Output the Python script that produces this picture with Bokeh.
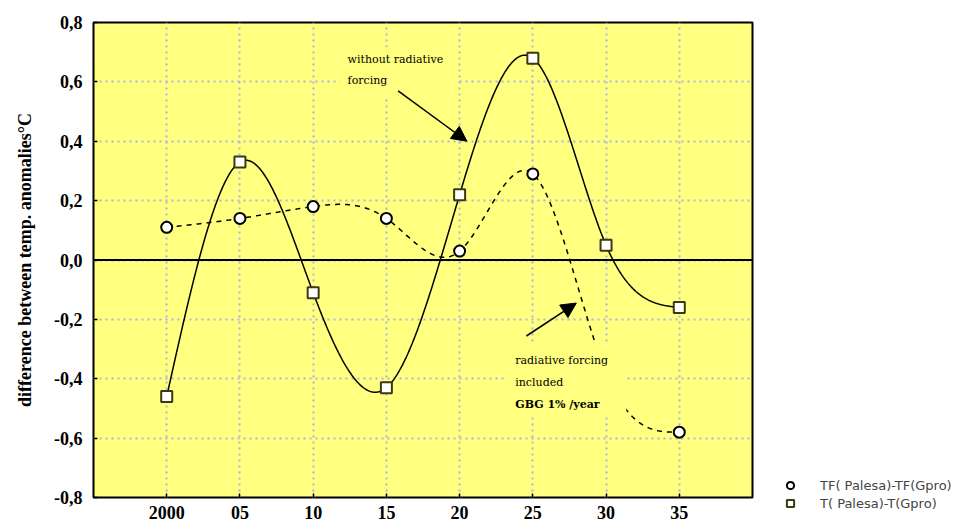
import numpy as np
from bokeh.plotting import figure
from bokeh.layouts import row
from bokeh.models import (Range1d, FixedTicker, Span, Label, Arrow, NormalHead,
                          BoxAnnotation, Legend, LegendItem, ColumnDataSource)
from bokeh.embed import file_html
from bokeh.resources import INLINE

# ---- data -------------------------------------------------------------
years = [2000, 2005, 2010, 2015, 2020, 2025, 2030, 2035]
tick_labels = ["2000", "05", "10", "15", "20", "25", "30", "35"]
# TF(Palesa)-TF(Gpro): radiative forcing included (dashed)
tf_diff = [0.11, 0.14, 0.18, 0.14, 0.03, 0.29, -0.38, -0.58]
# T(Palesa)-T(Gpro): without radiative forcing (solid)
t_diff = [-0.46, 0.33, -0.11, -0.43, 0.22, 0.68, 0.05, -0.16]
y_ticks = [-0.8, -0.6, -0.4, -0.2, 0.0, 0.2, 0.4, 0.6, 0.8]
y_tick_labels = ["-0,8", "-0,6", "-0,4", "-0,2", "0,0", "0,2", "0,4", "0,6", "0,8"]
series_names = ["TF( Palesa)-TF(Gpro)", "T( Palesa)-T(Gpro)"]


def natural_spline(x, y, n=600):
    x = np.asarray(x, float)
    y = np.asarray(y, float)
    m = len(x)
    h = np.diff(x)
    A = np.zeros((m, m))
    b = np.zeros(m)
    A[0, 0] = 1.0
    A[-1, -1] = 1.0
    for i in range(1, m - 1):
        A[i, i - 1] = h[i - 1]
        A[i, i] = 2 * (h[i - 1] + h[i])
        A[i, i + 1] = h[i]
        b[i] = 3 * ((y[i + 1] - y[i]) / h[i] - (y[i] - y[i - 1]) / h[i - 1])
    c = np.linalg.solve(A, b)
    xs = np.linspace(x[0], x[-1], n)
    ys = np.empty_like(xs)
    for k, xv in enumerate(xs):
        i = min(np.searchsorted(x, xv, side="right") - 1, m - 2)
        dx = xv - x[i]
        bi = (y[i + 1] - y[i]) / h[i] - h[i] * (2 * c[i] + c[i + 1]) / 3
        di = (c[i + 1] - c[i]) / (3 * h[i])
        ys[k] = y[i] + bi * dx + c[i] * dx ** 2 + di * dx ** 3
    return xs, ys


YELLOW = "#ffff80"
SERIF = "Liberation Serif"
SQ_LINE = "#3a3a10"

p = figure(width=760, height=527, output_backend="svg", toolbar_location=None,
           x_range=Range1d(1995, 2040), y_range=Range1d(-0.8, 0.8),
           min_border_left=93, min_border_right=8, min_border_top=22,
           min_border_bottom=30)
p.frame_align = False
p.background_fill_color = YELLOW
p.border_fill_color = "white"
p.outline_line_color = "black"
p.outline_line_width = 2

# axes
p.xaxis.ticker = FixedTicker(ticks=years)
p.xaxis.major_label_overrides = {y: l for y, l in zip(years, tick_labels)}
p.yaxis.ticker = FixedTicker(ticks=y_ticks)
p.yaxis.major_label_overrides = {v: l for v, l in zip(y_ticks, y_tick_labels)}
for ax in (p.xaxis, p.yaxis):
    ax.axis_line_color = None
    ax.major_tick_in = 4
    ax.major_tick_out = 0
    ax.major_tick_line_color = "black"
    ax.major_tick_line_width = 1.5
    ax.minor_tick_line_color = None
    ax.major_label_text_font = SERIF
    ax.major_label_text_font_style = "bold"
    ax.major_label_text_font_size = "18px"
    ax.major_label_text_color = "black"
p.xaxis.major_label_standoff = 8
p.yaxis.major_label_standoff = 11
p.yaxis.axis_label = "difference between temp. anomalies°C"
p.yaxis.axis_label_text_font = SERIF
p.yaxis.axis_label_text_font_style = "bold"
p.yaxis.axis_label_text_font_size = "18px"
p.yaxis.axis_label_text_color = "black"
p.yaxis.axis_label_standoff = 16

# grid
p.xgrid.ticker = FixedTicker(ticks=years)
p.ygrid.ticker = FixedTicker(ticks=y_ticks[1:-1])
for g in (p.xgrid, p.ygrid):
    g.grid_line_color = "#aab4dc"
    g.grid_line_width = 2
    g.grid_line_dash = "2 4"

# zero line
p.add_layout(Span(location=0.0, dimension="width", line_color="black", line_width=2))

# curves
sx, sy = natural_spline(years, t_diff)
p.line(sx, sy, line_color="black", line_width=1.5)
dx_, dy_ = natural_spline(years, tf_diff)
p.line(dx_, dy_, line_color="black", line_width=1.5, line_dash="5 5")

p.scatter(years, t_diff, marker="square", size=11, fill_color="white",
          line_color=SQ_LINE, line_width=2)
p.scatter(years, tf_diff, marker="circle", size=11, fill_color="white",
          line_color="black", line_width=2)

# opaque text boxes (cover grid and curve as in the original)
p.add_layout(BoxAnnotation(left=2011.8, right=2019.78, top=0.717, bottom=0.549,
                           fill_color=YELLOW, fill_alpha=1.0, line_color=None))
p.add_layout(BoxAnnotation(left=2023.26, right=2031.38, top=-0.28, bottom=-0.525,
                           fill_color=YELLOW, fill_alpha=1.0, line_color=None))

ann_font = dict(text_font="DejaVu Serif", text_font_size="11px", text_baseline="middle",
                text_color="black")
p.add_layout(Label(x=2012.35, y=0.677, text="without radiative", **ann_font))
p.add_layout(Label(x=2012.35, y=0.603, text="forcing", **ann_font))
p.add_layout(Label(x=2023.8, y=-0.34, text="radiative forcing", **ann_font))
p.add_layout(Label(x=2023.8, y=-0.414, text="included", **ann_font))
p.add_layout(Label(x=2023.8, y=-0.488, text="GBG 1% /year", text_font_style="bold",
                   **ann_font))

# arrows
p.add_layout(Arrow(end=NormalHead(size=15, fill_color="black", line_color="black"),
                   x_start=2015.8, y_start=0.57, x_end=2020.5, y_end=0.40,
                   line_color="black", line_width=1.5))
p.add_layout(Arrow(end=NormalHead(size=15, fill_color="black", line_color="black"),
                   x_start=2024.56, y_start=-0.256, x_end=2027.97, y_end=-0.145,
                   line_color="black", line_width=1.5))

# legend panel (separate, axis-less figure to the right)
q = figure(width=200, height=527, output_backend="svg", toolbar_location=None,
           x_range=Range1d(0, 1), y_range=Range1d(0, 1),
           x_axis_location=None, y_axis_location=None,
           min_border_left=0, min_border_right=0, min_border_top=0,
           min_border_bottom=0)
q.frame_align = False
q.grid.visible = False
q.outline_line_color = None
q.background_fill_color = "white"
# legend keys only: a point outside the visible range so nothing is drawn in q
key_src = ColumnDataSource(data=dict(x=[-5], y=[-5]))
l_ci = q.scatter("x", "y", source=key_src, marker="circle", size=9, fill_color="white",
                 line_color="black", line_width=2)
l_sq = q.scatter("x", "y", source=key_src, marker="square", size=9, fill_color="white",
                 line_color=SQ_LINE, line_width=2)
legend = Legend(items=[LegendItem(label=series_names[0], renderers=[l_ci]),
                       LegendItem(label=series_names[1], renderers=[l_sq])],
                location=(21, 15))
legend.background_fill_alpha = 0
legend.border_line_alpha = 0
legend.padding = 0
legend.margin = 0
legend.spacing = 0
legend.glyph_width = 18
legend.glyph_height = 18
legend.label_height = 14
legend.label_standoff = 21
legend.label_text_font = "DejaVu Sans"
legend.label_text_font_size = "13px"
q.add_layout(legend)

open("out.html", "w").write(file_html(row(p, q), INLINE))
